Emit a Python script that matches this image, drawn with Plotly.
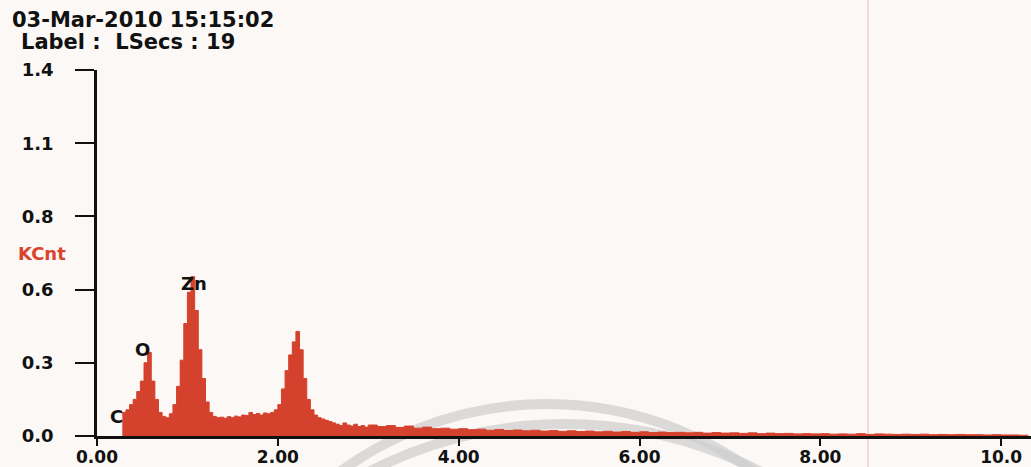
import plotly.graph_objects as go

# Spectrum channels (keV) and counts (KCnt)
energy_low = [0.28, 0.32, 0.36, 0.40, 0.44, 0.48, 0.52, 0.56, 0.60, 0.64, 0.68, 0.72, 0.76, 0.80,
              0.84, 0.88, 0.92, 0.96, 1.00, 1.04, 1.08, 1.12, 1.16, 1.20, 1.24, 1.28, 1.32, 1.36,
              1.40, 1.44, 1.48, 1.52, 1.56, 1.60, 1.64, 1.68, 1.72, 1.76, 1.80, 1.84, 1.88, 1.92,
              1.96, 2.00, 2.04, 2.08, 2.12, 2.16, 2.20, 2.24, 2.28, 2.32, 2.36, 2.40, 2.44, 2.48,
              2.52, 2.56, 2.60, 2.64, 2.68, 2.72, 2.76, 2.80, 2.84, 2.88, 2.92, 2.96, 3.00]
counts_low = [0.09, 0.10, 0.12, 0.14, 0.17, 0.21, 0.28, 0.32, 0.21, 0.14, 0.09, 0.075, 0.07, 0.085,
              0.12, 0.19, 0.29, 0.43, 0.55, 0.61, 0.48, 0.33, 0.22, 0.13, 0.09, 0.075, 0.07, 0.072,
              0.068, 0.074, 0.07, 0.076, 0.073, 0.08, 0.078, 0.09, 0.082, 0.086, 0.08, 0.088, 0.085, 0.09,
              0.10, 0.12, 0.18, 0.25, 0.31, 0.36, 0.40, 0.33, 0.22, 0.14, 0.10, 0.08, 0.07, 0.065,
              0.06, 0.055, 0.05, 0.045, 0.04, 0.05, 0.042, 0.038, 0.045, 0.036, 0.04, 0.034, 0.042]
energy_high = [3.1, 3.2, 3.3, 3.4, 3.5, 3.6, 3.7, 3.8, 3.9, 4.0, 4.1, 4.2, 4.3, 4.4, 4.5, 4.6, 4.7,
               4.8, 4.9, 5.0, 5.1, 5.2, 5.3, 5.4, 5.5, 5.6, 5.7, 5.8, 5.9, 6.0, 6.1, 6.2, 6.3, 6.4,
               6.5, 6.6, 6.7, 6.8, 6.9, 7.0, 7.1, 7.2, 7.3, 7.4, 7.5, 7.6, 7.7, 7.8, 7.9, 8.0, 8.1,
               8.2, 8.3, 8.4, 8.5, 8.6, 8.7, 8.8, 8.9, 9.0, 9.1, 9.2, 9.3, 9.4, 9.5, 9.6, 9.7, 9.8,
               9.9, 10.0, 10.1, 10.2, 10.3]
counts_high = [0.036, 0.04, 0.033, 0.038, 0.03, 0.034, 0.028, 0.03, 0.026, 0.028, 0.024, 0.026, 0.022,
               0.025, 0.021, 0.023, 0.02, 0.022, 0.019, 0.021, 0.018, 0.02, 0.017, 0.019, 0.016, 0.018,
               0.015, 0.017, 0.014, 0.016, 0.013, 0.015, 0.013, 0.014, 0.012, 0.014, 0.011, 0.013, 0.011,
               0.012, 0.010, 0.012, 0.009, 0.011, 0.009, 0.010, 0.008, 0.009, 0.008, 0.009, 0.007, 0.008,
               0.007, 0.009, 0.006, 0.008, 0.007, 0.006, 0.007, 0.006, 0.007, 0.005, 0.006, 0.005, 0.006,
               0.005, 0.005, 0.004, 0.005, 0.004, 0.004, 0.003, 0.003]

x_tickvals = [0, 2, 4, 6, 8, 10]
x_ticktext = ["0.00", "2.00", "4.00", "6.00", "8.00", "10.0"]
y_tickvals = [0.0, 0.28, 0.56, 0.84, 1.12, 1.4]
y_ticktext = ["0.0", "0.3", "0.6", "0.8", "1.1", "1.4"]

element_names = ["C", "O", "Zn"]
element_x = [0.22, 0.50, 1.07]
element_y = [0.073, 0.33, 0.585]

title_line1 = "03-Mar-2010 15:15:02"
title_line2 = "Label :  LSecs : 19"
y_label = "KCnt"

RED = "#d4412c"
FONT = "DejaVu Sans"
BG = "#fbf8f6"

energy = energy_low + energy_high
counts = counts_low + counts_high

fig = go.Figure()
fig.add_trace(go.Scatter(
    x=energy, y=counts, mode="lines", line=dict(color=RED, width=1, shape="hv"),
    fill="tozeroy", fillcolor=RED, hoverinfo="skip", showlegend=False,
))

W, H = 1031, 467
L, R, T, B = 97, 0, 70, 31
pw, ph = W - L - R, H - T - B


def px(xp):
    return (xp - L) / pw


def py(yp):
    return (H - B - yp) / ph


annotations = []
for name, ex, ey in zip(element_names, element_x, element_y):
    annotations.append(dict(x=ex, y=ey, xref="x", yref="y", text=name, showarrow=False,
                            font=dict(family=FONT, size=18, color="#111111", weight="bold"),
                            xanchor="center", yanchor="middle"))
annotations.append(dict(x=px(10), y=py(20), xref="paper", yref="paper", text=title_line1,
                        showarrow=False, xanchor="left", yanchor="middle",
                        font=dict(family=FONT, size=21, color="#111111", weight="bold")))
annotations.append(dict(x=px(19), y=py(42), xref="paper", yref="paper", text=title_line2,
                        showarrow=False, xanchor="left", yanchor="middle",
                        font=dict(family=FONT, size=21, color="#111111", weight="bold")))
annotations.append(dict(x=px(16), y=py(253), xref="paper", yref="paper", text=y_label,
                        showarrow=False, xanchor="left", yanchor="middle",
                        font=dict(family=FONT, size=18, color="#d8452c", weight="bold")))

shapes = [
    # faint scanned watermark arcs
    dict(type="circle", xref="paper", yref="paper", layer="below",
         x0=px(197), x1=px(897), y0=py(1104), y1=py(404),
         line=dict(color="rgba(205,205,205,0.7)", width=10)),
    dict(type="circle", xref="paper", yref="paper", layer="below",
         x0=px(141), x1=px(989), y0=py(1270), y1=py(424),
         line=dict(color="rgba(205,205,205,0.7)", width=10)),
    # faint vertical pink scan line
    dict(type="line", xref="paper", yref="paper", layer="below",
         x0=px(868), x1=px(868), y0=py(467), y1=py(0),
         line=dict(color="rgba(240,205,205,0.7)", width=2)),
]

fig.update_layout(
    width=W, height=H,
    margin=dict(l=L, r=R, t=T, b=B, pad=0, autoexpand=False),
    paper_bgcolor=BG, plot_bgcolor=BG,
    font=dict(family=FONT, color="#111111"),
    annotations=annotations, shapes=shapes,
    xaxis=dict(range=[0, 10.33], showgrid=False, zeroline=False, showline=True, automargin=False,
               linecolor="#111111", linewidth=2.5, ticks="outside", ticklen=7,
               tickwidth=2, tickcolor="#111111", tickvals=x_tickvals, ticktext=x_ticktext,
               ticklabelstandoff=-3,
               tickfont=dict(family=FONT, size=17, color="#111111", weight="bold")),
    yaxis=dict(range=[0, 1.4], showgrid=False, zeroline=False, showline=True, automargin=False,
               linecolor="#111111", linewidth=2.5, ticks="outside", ticklen=19,
               tickwidth=2, tickcolor="#111111", tickvals=y_tickvals, ticktext=y_ticktext,
               ticklabelstandoff=18,
               tickfont=dict(family=FONT, size=18, color="#111111", weight="bold")),
)

fig.write_html(
    "out.html",
    config={"displayModeBar": False},
    post_script="document.body.style.margin='0';document.body.style.padding='0';"
                "document.body.style.overflow='hidden';",
)
